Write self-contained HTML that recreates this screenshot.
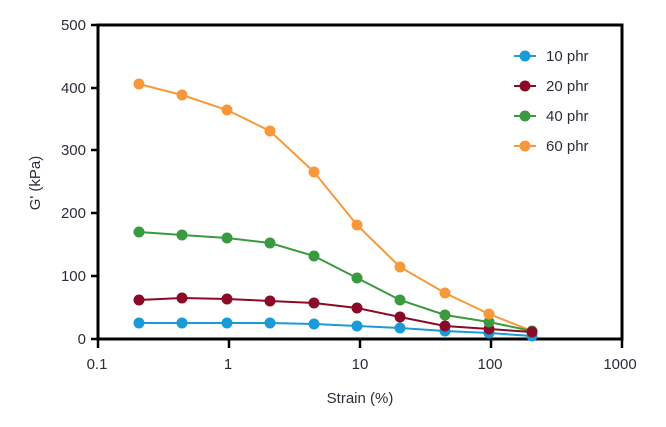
<!DOCTYPE html><html><head><style>body{margin:0;background:#fff}svg text{font-family:"Liberation Sans",sans-serif;fill:#2d2d3a}</style></head><body>
<svg width="666" height="422" xmlns="http://www.w3.org/2000/svg">
<rect x="98" y="25" width="524" height="314" fill="none" stroke="#000" stroke-width="3"/>
<g stroke="#000" stroke-width="2.5">
<line x1="91" y1="25" x2="98" y2="25"/><line x1="91" y1="88" x2="98" y2="88"/><line x1="91" y1="150" x2="98" y2="150"/><line x1="91" y1="213" x2="98" y2="213"/><line x1="91" y1="276" x2="98" y2="276"/><line x1="91" y1="339" x2="98" y2="339"/>
<line x1="98" y1="339" x2="98" y2="348"/><line x1="229" y1="339" x2="229" y2="348"/><line x1="360" y1="339" x2="360" y2="348"/><line x1="491" y1="339" x2="491" y2="348"/><line x1="622" y1="339" x2="622" y2="348"/></g>
<g font-size="15" text-anchor="end"><text x="86" y="30">500</text><text x="86" y="93">400</text><text x="86" y="155">300</text><text x="86" y="218">200</text><text x="86" y="281">100</text><text x="86" y="344">0</text></g>
<g font-size="15" text-anchor="middle"><text x="97" y="369">0.1</text><text x="228" y="369">1</text><text x="360" y="369">10</text><text x="490" y="369">100</text><text x="620" y="369">1000</text>
<text x="360" y="403">Strain (%)</text>
<text transform="translate(40,183) rotate(-90)">G' (kPa)</text></g>
<g fill="none" stroke-width="2">
<polyline stroke="#f7993b" points="139,84 182,95 227,110 270,131 314,172 357,225 400,267 445,293 489,314 532,331"/>
<polyline stroke="#3a9a3f" points="139,232 182,235 227,238 270,243 314,256 357,278 400,300 445,315 489,322 532,331"/>
<polyline stroke="#8b0a27" points="139,300 182,298 227,299 270,301 314,303 357,308 400,317 445,326 489,329 532,332"/>
<polyline stroke="#1a9ad6" points="139,323 182,323 227,323 270,323 314,324 357,326 400,328 445,331 489,333 532,336"/>
</g>
<g fill="#1a9ad6"><circle cx="139" cy="323" r="5.5"/><circle cx="182" cy="323" r="5.5"/><circle cx="227" cy="323" r="5.5"/><circle cx="270" cy="323" r="5.5"/><circle cx="314" cy="324" r="5.5"/><circle cx="357" cy="326" r="5.5"/><circle cx="400" cy="328" r="5.5"/><circle cx="445" cy="331" r="5.5"/><circle cx="489" cy="333" r="5.5"/><circle cx="532" cy="336" r="5.5"/></g>
<g fill="#8b0a27"><circle cx="139" cy="300" r="5.5"/><circle cx="182" cy="298" r="5.5"/><circle cx="227" cy="299" r="5.5"/><circle cx="270" cy="301" r="5.5"/><circle cx="314" cy="303" r="5.5"/><circle cx="357" cy="308" r="5.5"/><circle cx="400" cy="317" r="5.5"/><circle cx="445" cy="326" r="5.5"/><circle cx="489" cy="329" r="5.5"/></g>
<g fill="#3a9a3f"><circle cx="139" cy="232" r="5.5"/><circle cx="182" cy="235" r="5.5"/><circle cx="227" cy="238" r="5.5"/><circle cx="270" cy="243" r="5.5"/><circle cx="314" cy="256" r="5.5"/><circle cx="357" cy="278" r="5.5"/><circle cx="400" cy="300" r="5.5"/><circle cx="445" cy="315" r="5.5"/><circle cx="489" cy="322" r="5.5"/><circle cx="532" cy="331" r="5.5"/></g>
<g fill="#f7993b"><circle cx="139" cy="84" r="5.5"/><circle cx="182" cy="95" r="5.5"/><circle cx="227" cy="110" r="5.5"/><circle cx="270" cy="131" r="5.5"/><circle cx="314" cy="172" r="5.5"/><circle cx="357" cy="225" r="5.5"/><circle cx="400" cy="267" r="5.5"/><circle cx="445" cy="293" r="5.5"/><circle cx="489" cy="314" r="5.5"/></g>
<circle cx="532" cy="332" r="5.5" fill="#8b0a27"/>
<g stroke-width="2">
<line x1="514" y1="56" x2="536" y2="56" stroke="#1a9ad6"/><circle cx="525" cy="56" r="5.5" fill="#1a9ad6"/>
<line x1="514" y1="86" x2="536" y2="86" stroke="#8b0a27"/><circle cx="525" cy="86" r="5.5" fill="#8b0a27"/>
<line x1="514" y1="116" x2="536" y2="116" stroke="#3a9a3f"/><circle cx="525" cy="116" r="5.5" fill="#3a9a3f"/>
<line x1="514" y1="146" x2="536" y2="146" stroke="#f7993b"/><circle cx="525" cy="146" r="5.5" fill="#f7993b"/></g>
<g font-size="15"><text x="546" y="61">10 phr</text><text x="546" y="91">20 phr</text><text x="546" y="121">40 phr</text><text x="546" y="151">60 phr</text></g>
</svg></body></html>
